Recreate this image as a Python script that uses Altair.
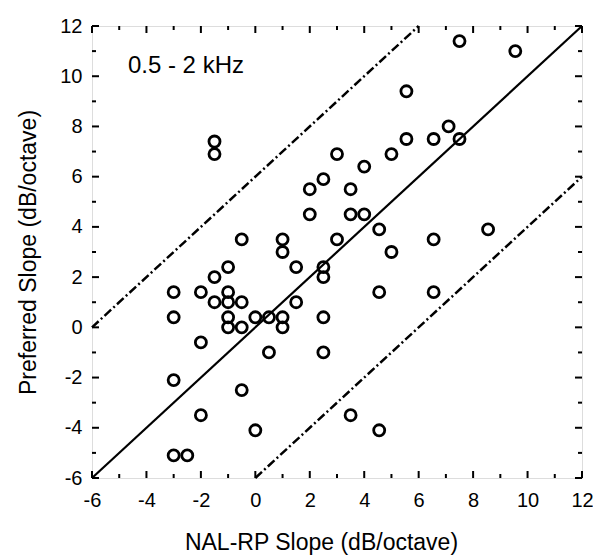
import altair as alt
import pandas as pd

# NAL-RP slope (x) and preferred slope (y), dB/octave
nal_slope = [-1.5, -1.5, 3.0, 2.5, 2.0, 2.0, -0.5, 1.0, 1.0, 3.0,
             1.5, 2.5, 2.5, -1.0, -1.5, -3.0, -2.0, -1.0, -1.5, -1.0,
             -0.5, 1.5, -3.0, -1.0, 0.0, 0.5, 1.0, 2.5, -1.0, -0.5,
             1.0, -2.0, 0.5, 2.5, -3.0, -0.5, -2.0, 0.0, -3.0, -2.5,
             7.5, 9.55, 5.55, 7.1, 5.55, 6.55, 7.5, 4.0, 5.0, 3.5,
             3.5, 4.0, 4.55, 6.55, 8.55, 5.0, 4.55, 6.55, 3.5, 4.55]
pref_slope = [7.4, 6.9, 6.9, 5.9, 5.5, 4.5, 3.5, 3.5, 3.0, 3.5,
              2.4, 2.4, 2.0, 2.4, 2.0, 1.4, 1.4, 1.4, 1.0, 1.0,
              1.0, 1.0, 0.4, 0.4, 0.4, 0.4, 0.4, 0.4, 0.0, 0.0,
              0.0, -0.6, -1.0, -1.0, -2.1, -2.5, -3.5, -4.1, -5.1, -5.1,
              11.4, 11.0, 9.4, 8.0, 7.5, 7.5, 7.5, 6.4, 6.9, 5.5,
              4.5, 4.5, 3.9, 3.5, 3.9, 3.0, 1.4, 1.4, -3.5, -4.1]

axis_min, axis_max = -6, 12
major_ticks = list(range(-6, 13, 2))
minor_ticks = list(range(-5, 12, 2))
line_offsets = [0, 6, -6]  # y = x + offset
annotation = ["0.5 - 2 kHz"]

W, H = 490, 452
FONT = "Liberation Sans"

df = pd.DataFrame({"nal": nal_slope, "pref": pref_slope})

rows = []
for off in line_offsets:
    x0 = max(axis_min, axis_min - off)
    x1 = min(axis_max, axis_max - off)
    rows.append({"x": x0, "y": x0 + off, "off": off})
    rows.append({"x": x1, "y": x1 + off, "off": off})
lines = pd.DataFrame(rows)

xs = alt.Scale(domain=[axis_min, axis_max], nice=False, zero=False)
ys = alt.Scale(domain=[axis_min, axis_max], nice=False, zero=False)

xaxis = alt.Axis(title="NAL-RP Slope (dB/octave)", values=major_ticks, ticks=False,
                 domain=False, grid=False, labelFont=FONT, labelFontSize=20,
                 labelColor="black", labelPadding=12, labelFlush=False,
                 labelOverlap=False, labelExpr="toString(datum.value)", titleFont=FONT,
                 titleFontSize=23, titleFontWeight="normal", titleColor="black",
                 titleX=229, titleY=71, titleBaseline="alphabetic", titleAlign="center")
yaxis = alt.Axis(title="Preferred Slope (dB/octave)", values=major_ticks, ticks=False,
                 domain=False, grid=False, labelFont=FONT, labelFontSize=20,
                 labelColor="black", labelPadding=10, labelFlush=False,
                 labelOverlap=False, labelExpr="toString(datum.value)", titleFont=FONT,
                 titleFontSize=23, titleFontWeight="normal", titleColor="black",
                 titlePadding=19)

points = alt.Chart(df).mark_point(shape="circle", filled=False, color="black",
                                  size=122, strokeWidth=2.8, opacity=1).encode(
    x=alt.X("nal:Q", scale=xs, axis=xaxis),
    y=alt.Y("pref:Q", scale=ys, axis=yaxis),
)

solid = alt.Chart(lines[lines.off == 0]).mark_line(color="black", strokeWidth=2.2).encode(
    x=alt.X("x:Q", scale=xs), y=alt.Y("y:Q", scale=ys), detail="off:N")
dashed = alt.Chart(lines[lines.off != 0]).mark_line(
    color="black", strokeWidth=2.5, strokeDash=[9, 3, 2, 3]).encode(
    x=alt.X("x:Q", scale=xs), y=alt.Y("y:Q", scale=ys), detail="off:N")

maj = pd.DataFrame({"v": major_ticks})
mnr = pd.DataFrame({"v": minor_ticks})


def tick_layers(data, length):
    base = alt.Chart(data).mark_rule(color="black", strokeWidth=2)
    return [
        base.encode(x=alt.X("v:Q", scale=xs), y=alt.value(H), y2=alt.value(H - length)),
        base.encode(x=alt.X("v:Q", scale=xs), y=alt.value(0), y2=alt.value(length)),
        base.encode(y=alt.Y("v:Q", scale=ys), x=alt.value(0), x2=alt.value(length)),
        base.encode(y=alt.Y("v:Q", scale=ys), x=alt.value(W), x2=alt.value(W - length)),
    ]


ticks = tick_layers(maj, 7) + tick_layers(mnr, 4)

label = alt.Chart(pd.DataFrame({"t": annotation, "x": [-4.68], "y": [10.4]})).mark_text(
    font=FONT, fontSize=24, color="black", align="left", baseline="middle").encode(
    x=alt.X("x:Q", scale=xs), y=alt.Y("y:Q", scale=ys), text="t:N")

chart = alt.layer(solid, dashed, *ticks, points, label).properties(
    width=W, height=H,
    padding={"left": 84, "top": 18, "right": 11, "bottom": 78},
    autosize=alt.AutoSizeParams(type="none"),
).configure_view(stroke="black", strokeWidth=2.5).configure(background="white")

chart.save("out.html", embed_options={"renderer": "svg", "actions": False})
